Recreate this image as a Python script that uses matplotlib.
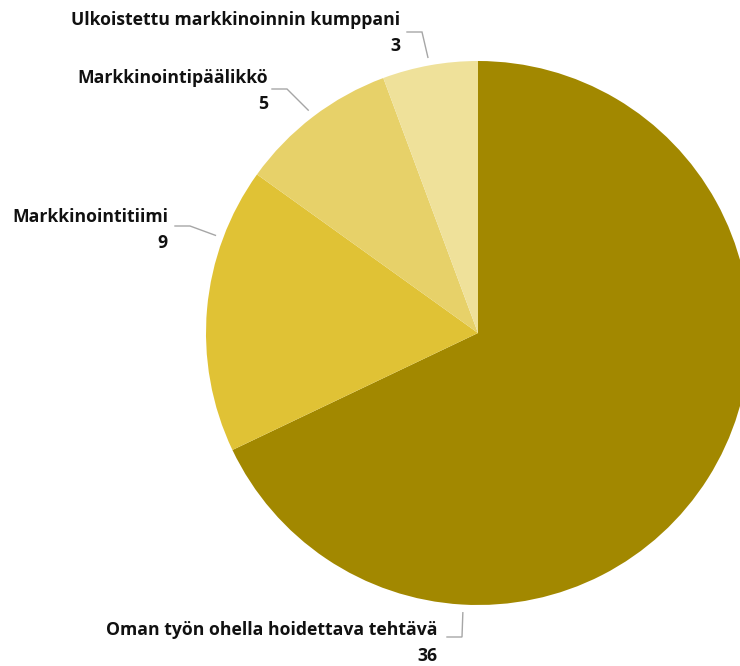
import numpy as np
import matplotlib.pyplot as plt

# Vastaukset: kuka hoitaa markkinoinnin
kategoriat = ["Oman työn ohella hoidettava tehtävä", "Markkinointitiimi",
              "Markkinointipäälikkö", "Ulkoistettu markkinoinnin kumppani"]
arvot = [36, 9, 5, 3]
varit = ["#A28800", "#E0C235", "#E7D169", "#EFE19A"]

# Otsikoiden sijoittelu kuvapisteinä (oikea reuna, ylärivin y, viivan kulma, taitepiste)
teksti_x = [437, 168, 268, 400]
teksti_y = [630, 217, 78, 20]
viiva_kulma = [-93.1, 159.6, 127.3, 100.3]
taite = [(462, 637), (190, 226), (287, 89), (422, 32)]

W, H = 740, 666
keski = (478, H - 333)
R = 272

fig = plt.figure(figsize=(W / 100, H / 100), dpi=100)
ax = fig.add_axes([0, 0, 1, 1])

ax.pie(arvot, colors=varit, startangle=90, counterclock=False,
       center=keski, radius=R, wedgeprops=dict(linewidth=0),
       frame=True)
ax.set_xlim(0, W)
ax.set_ylim(0, H)
ax.set_aspect("equal")
ax.axis("off")

fonttti = dict(family=["Open Sans", "DejaVu Sans"], fontweight="bold",
               fontsize=12.7, color="#111111", ha="right", va="center")

for nimi, arvo, tx, ty, kulma, (ex, ey) in zip(kategoriat, arvot, teksti_x,
                                               teksti_y, viiva_kulma, taite):
    a = np.deg2rad(kulma)
    px = keski[0] + 1.03 * R * np.cos(a)
    py = keski[1] + 1.03 * R * np.sin(a)
    ax.plot([px, ex, ex - 15], [py, H - ey, H - ey], color="#A6A6A6",
            lw=1, solid_joinstyle="miter")
    ax.text(tx, H - ty, nimi, **fonttti)
    ax.text(tx, H - ty - 26, str(arvo), **fonttti)

fig.savefig("out.png", dpi=100)
